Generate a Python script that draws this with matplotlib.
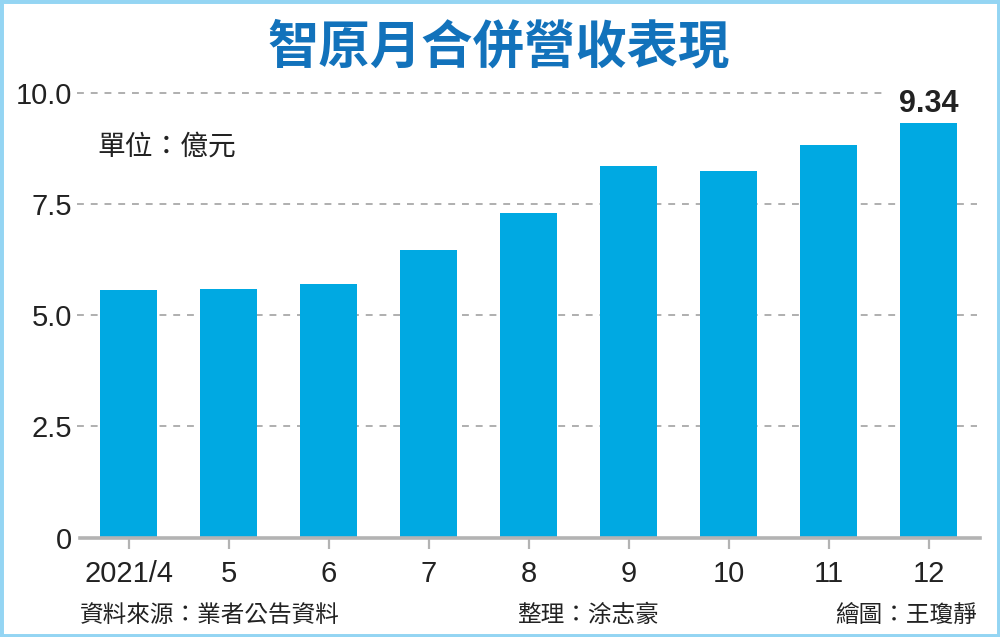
import matplotlib
matplotlib.use("Agg")
import matplotlib.pyplot as plt
from matplotlib.patches import Rectangle

# ---- data ----
categories = ["2021/4", "5", "6", "7", "8", "9", "10", "11", "12"]
revenue = [5.57, 5.59, 5.70, 6.47, 7.30, 8.37, 8.25, 8.83, 9.34]
y_ticks = [0, 2.5, 5.0, 7.5, 10.0]
y_tick_labels = ["0", "2.5", "5.0", "7.5", "10.0"]
title = "智原月合併營收表現"
unit_text = "單位：億元"
source_text = "資料來源：業者公告資料"
editor_text = "整理：涂志豪"
drawer_text = "繪圖：王瓊靜"

CJK = ["Noto Sans CJK TC", "DejaVu Sans"]
NUM = ["Liberation Sans", "DejaVu Sans"]
BAR_COLOR = "#00a9e2"
TITLE_COLOR = "#1272bb"
TEXT_COLOR = "#222222"
GRID_COLOR = "#9a9a9a"
AXIS_COLOR = "#b3b3b3"
BORDER_COLOR = "#94d5f3"

fig = plt.figure(figsize=(10, 6.37), dpi=100)
fig.patch.set_facecolor("white")

ax = fig.add_axes([0.08, 0.1562, 0.90, 0.6973])
x = list(range(len(categories)))
ax.bar(x, revenue, width=0.57, color=BAR_COLOR, zorder=3)

ax.set_xlim(-0.485, 8.515)
ax.set_ylim(0, 10)

# gridlines (dashed), top one stops before the value label
for t in y_ticks[1:]:
    xmax = 0.891 if t == 10.0 else 0.997
    ax.axhline(t, xmin=-0.003, xmax=xmax, color=GRID_COLOR, lw=1.1,
               ls=(0, (4.5, 4.5)), zorder=1, clip_on=False)

for side in ["top", "right", "left"]:
    ax.spines[side].set_visible(False)
ax.spines["bottom"].set_color(AXIS_COLOR)
ax.spines["bottom"].set_linewidth(2.6)
ax.spines["bottom"].set_zorder(4)

ax.set_yticks(y_ticks)
ax.set_yticklabels(y_tick_labels, fontfamily=NUM, fontsize=21, color=TEXT_COLOR)
ax.tick_params(axis="y", length=0, pad=6)

ax.set_xticks(x)
ax.set_xticklabels(categories, fontfamily=NUM, fontsize=21, color=TEXT_COLOR)
ax.tick_params(axis="x", length=8, width=1.6, color=AXIS_COLOR, pad=8)

# value label on last bar
ax.annotate(f"{revenue[-1]:.2f}", (x[-1], revenue[-1]), xytext=(0, 7.5),
            textcoords="offset points", ha="center", va="baseline",
            fontfamily=NUM, fontsize=22, fontweight="bold", color=TEXT_COLOR,
            annotation_clip=False)

# texts
fig.text(0.499, 0.926, title, ha="center", va="center", fontsize=37,
         fontweight="bold", color=TITLE_COLOR, family=CJK)
fig.text(0.097, 1 - 147 / 637, unit_text, ha="left", va="center", fontsize=20,
         color=TEXT_COLOR, family=CJK)
fig.text(0.080, 1 - 615 / 637, source_text, ha="left", va="center", fontsize=17,
         color=TEXT_COLOR, family=CJK)
fig.text(0.517, 1 - 615 / 637, editor_text, ha="left", va="center", fontsize=17,
         color=TEXT_COLOR, family=CJK)
fig.text(0.977, 1 - 615 / 637, drawer_text, ha="right", va="center", fontsize=17,
         color=TEXT_COLOR, family=CJK)

# light blue frame
fig.patches.append(Rectangle((0, 0), 1, 1, transform=fig.transFigure, fill=False,
                             edgecolor=BORDER_COLOR, lw=5, zorder=10))

fig.savefig("out.png", dpi=100, facecolor="white")
